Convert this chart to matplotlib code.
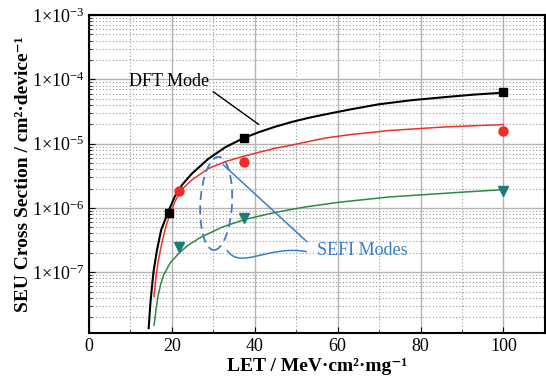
import numpy as np
import matplotlib
matplotlib.use('Agg')
import matplotlib.pyplot as plt
from matplotlib.ticker import MultipleLocator, LogLocator, FuncFormatter, NullFormatter
from matplotlib.patches import Ellipse, PathPatch
from matplotlib.path import Path

plt.rcParams['font.family'] = ['Liberation Serif', 'DejaVu Serif']
plt.rcParams['mathtext.fontset'] = 'custom'
plt.rcParams['mathtext.rm'] = 'Liberation Serif'
plt.rcParams['mathtext.default'] = 'rm'

# fitted curves
dft_let = [14.4, 14.8, 15.2, 15.6, 16.4, 17.4, 19.2, 20.8, 22.5, 24.8, 28.8, 32.9, 37.3,
           40.9, 44.9, 48.9, 53.0, 57.0, 63.0, 70.0, 78.0, 86.0, 93.0, 100.0]
dft_fit = [1.35e-8, 3.2e-8, 6.0e-8, 1.05e-7, 2.2e-7, 4.5e-7, 9.0e-7, 1.55e-6, 2.3e-6,
           3.4e-6, 5.8e-6, 8.8e-6, 1.22e-5, 1.5e-5, 1.83e-5, 2.17e-5, 2.52e-5, 2.85e-5,
           3.4e-5, 4.1e-5, 4.75e-5, 5.3e-5, 5.8e-5, 6.2e-5]

red_let = [15.7, 16.2, 16.8, 17.6, 18.6, 19.6, 20.6, 21.7, 22.8, 24.8, 28.8, 32.9, 36.9,
           40.9, 44.9, 48.9, 53.0, 57.0, 63.0, 72.5, 86.0, 100.0]
red_fit = [4.2e-8, 9.0e-8, 1.6e-7, 2.9e-7, 5.3e-7, 8.0e-7, 1.2e-6, 1.65e-6, 2.05e-6,
           2.72e-6, 4.1e-6, 5.25e-6, 6.25e-6, 7.3e-6, 8.45e-6, 9.5e-6, 1.08e-5, 1.22e-5,
           1.38e-5, 1.6e-5, 1.82e-5, 1.98e-5]

grn_let = [15.7, 16.2, 16.7, 17.3, 18.0, 19.6, 21.8, 24.0, 27.0, 32.4, 37.6, 44.5, 52.0,
           60.6, 72.5, 90.2, 100.0]
grn_fit = [1.5e-8, 2.7e-8, 4.4e-8, 6.5e-8, 9.0e-8, 1.4e-7, 2.0e-7, 2.65e-7, 3.5e-7,
           5.1e-7, 6.6e-7, 8.4e-7, 1.03e-6, 1.23e-6, 1.48e-6, 1.76e-6, 1.92e-6]

# measured points
dft_x = [19.2, 37.3, 100]
dft_y = [8.4e-7, 1.22e-5, 6.3e-5]
red_x = [21.8, 37.3, 100]
red_y = [1.8e-6, 5.2e-6, 1.6e-5]
grn_x = [21.8, 37.3, 100]
grn_y = [2.5e-7, 6.9e-7, 1.85e-6]

blue = '#3a7dc9'

fig = plt.figure(figsize=(5.46, 3.77), dpi=100)
ax = fig.add_axes([0.163, 0.116, 0.835, 0.844])

ax.set_yscale('log')
ax.set_xlim(0, 110)
ax.set_ylim(1.12e-8, 1e-3)

ax.plot(dft_let, dft_fit, color='black', lw=1.5, zorder=4)
ax.plot(red_let, red_fit, color='#f0302a', lw=1.1, zorder=4)
ax.plot(grn_let, grn_fit, color='#2f8a3f', lw=1.1, zorder=4)

ax.plot(dft_x, dft_y, 's', color='black', ms=6, zorder=5)
ax.plot(red_x, red_y, 'o', color='#ee2a2a', ms=6.5, zorder=5)
ax.plot(grn_x, grn_y, 'v', color='#1e7b7b', ms=7, zorder=5)

# annotations
ax.text(19.35, 9.1e-5, 'DFT Mode', fontsize=13, ha='center', va='center')
ax.plot([30.0, 40.9], [6.4e-5, 2.0e-5], color='black', lw=1.0, zorder=4)

ax.add_patch(Ellipse((0.279, 0.408), 0.0695, 0.293, angle=-2, transform=ax.transAxes,
                     fill=False, ec=blue, lw=1.3, ls=(0, (5, 3)), zorder=4))
ax.plot([32.45, 52.57], [4.65e-6, 2.98e-7], color=blue, lw=1.1, zorder=4)
verts = [(33.27, 2.21e-7), (36.5, 1.05e-7), (43.2, 2.7e-7), (52.57, 2.08e-7)]
codes = [Path.MOVETO, Path.CURVE4, Path.CURVE4, Path.CURVE4]
ax.add_patch(PathPatch(Path(verts, codes), fill=False, ec=blue, lw=1.1, zorder=4))
ax.text(54.9, 2.21e-7, 'SEFI Modes', fontsize=13, color=blue, ha='left', va='center')

# axes and grid
ax.xaxis.set_major_locator(MultipleLocator(20))
ax.xaxis.set_minor_locator(MultipleLocator(10))
ax.yaxis.set_major_locator(LogLocator(base=10, numticks=20))
ax.yaxis.set_minor_locator(LogLocator(base=10, subs=np.arange(2, 10), numticks=20))
ax.yaxis.set_major_formatter(FuncFormatter(lambda v, p: r'$1{\times}10^{%d}$' % round(np.log10(v))))
ax.yaxis.set_minor_formatter(NullFormatter())

ax.grid(which='major', color='#b4b4b4', lw=1.0, ls='-')
ax.grid(which='minor', color='#9a9a9a', lw=0.8, ls=(0, (1, 2)))
ax.set_axisbelow(True)

ax.tick_params(which='both', direction='in', labelsize=13)
ax.tick_params(which='major', length=4)
ax.tick_params(which='minor', length=2)
for s in ax.spines.values():
    s.set_linewidth(1.5)

ax.set_xlabel('LET / MeV·cm²·mg⁻¹', fontsize=14, fontweight='bold', labelpad=2)
ax.set_ylabel('SEU Cross Section / cm²·device⁻¹', fontsize=14, fontweight='bold', labelpad=0)

fig.savefig('out.png', dpi=100)
